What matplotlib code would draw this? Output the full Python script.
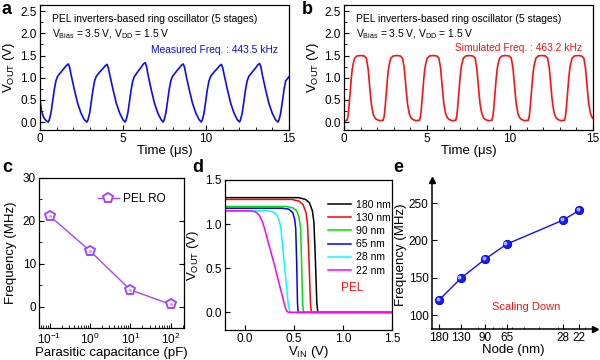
import matplotlib
matplotlib.use('Agg')
import matplotlib.pyplot as plt
from matplotlib.ticker import MultipleLocator, LogLocator, NullFormatter, FixedLocator, FixedFormatter
import matplotlib.transforms as mtransforms

plt.rcParams['font.family'] = ['Liberation Sans', 'DejaVu Sans']
plt.rcParams['mathtext.fontset'] = 'custom'
plt.rcParams['mathtext.rm'] = 'Liberation Sans'
plt.rcParams['mathtext.it'] = 'Liberation Sans:italic'
plt.rcParams['mathtext.bf'] = 'Liberation Sans:bold'
plt.rcParams['axes.linewidth'] = 0.9
plt.rcParams['xtick.direction'] = 'in'
plt.rcParams['ytick.direction'] = 'in'
plt.rcParams['xtick.labelsize'] = 8.5
plt.rcParams['ytick.labelsize'] = 8.5
plt.rcParams['xtick.major.pad'] = 2.5
plt.rcParams['ytick.major.pad'] = 2.5

# ---------------- data ----------------
# (a) measured waveform
a_time = [0.00, 0.08, 0.18, 0.28, 0.40,
          0.50, 0.56, 0.66, 0.76, 0.86, 0.96, 1.06, 1.27, 1.47, 1.60, 1.71, 1.79, 1.87, 2.07, 2.27, 2.47, 2.67,
          2.83, 2.89, 2.99, 3.09, 3.19, 3.29, 3.39, 3.60, 3.80, 3.93, 4.04, 4.12, 4.20, 4.40, 4.60, 4.80, 5.00,
          5.13, 5.19, 5.29, 5.39, 5.49, 5.59, 5.69, 5.90, 6.10, 6.23, 6.34, 6.42, 6.50, 6.70, 6.90, 7.10, 7.30,
          7.42, 7.48, 7.58, 7.68, 7.78, 7.88, 7.98, 8.19, 8.39, 8.52, 8.63, 8.71, 8.79, 8.99, 9.19, 9.39, 9.59,
          9.72, 9.78, 9.88, 9.98, 10.08, 10.18, 10.28, 10.49, 10.69, 10.82, 10.93, 11.01, 11.09, 11.29, 11.49, 11.69, 11.89,
          12.02, 12.08, 12.18, 12.28, 12.38, 12.48, 12.58, 12.79, 12.99, 13.12, 13.23, 13.31, 13.39, 13.59, 13.79, 13.99, 14.19,
          14.34, 14.40, 14.50, 14.60, 14.70, 14.80, 15.00]
a_vout = [0.52, 0.27, 0.14, 0.07, 0.02,
          0.00, 0.05, 0.20, 0.46, 0.73, 0.93, 1.03, 1.13, 1.22, 1.28, 1.31, 1.23, 1.07, 0.73, 0.42, 0.20, 0.05,
          0.00, 0.05, 0.20, 0.46, 0.73, 0.93, 1.03, 1.13, 1.21, 1.27, 1.30, 1.22, 1.07, 0.73, 0.42, 0.20, 0.05,
          0.00, 0.05, 0.20, 0.46, 0.73, 0.93, 1.03, 1.14, 1.24, 1.31, 1.34, 1.25, 1.08, 0.73, 0.42, 0.20, 0.05,
          0.00, 0.05, 0.20, 0.46, 0.73, 0.93, 1.03, 1.13, 1.22, 1.28, 1.31, 1.23, 1.07, 0.73, 0.42, 0.20, 0.05,
          0.00, 0.05, 0.20, 0.46, 0.73, 0.93, 1.03, 1.13, 1.21, 1.27, 1.30, 1.22, 1.07, 0.73, 0.42, 0.20, 0.05,
          0.00, 0.05, 0.20, 0.46, 0.73, 0.93, 1.03, 1.13, 1.22, 1.29, 1.32, 1.24, 1.07, 0.73, 0.42, 0.20, 0.05,
          0.00, 0.05, 0.20, 0.46, 0.73, 0.93, 1.02]

# (b) simulated waveform
b_time = [0.00, 0.10,
          0.18, 0.24, 0.29, 0.34, 0.39, 0.44, 0.49, 0.54, 0.64, 0.78, 1.00, 1.22, 1.35, 1.45, 1.50, 1.55, 1.60, 1.65, 1.75, 1.85, 1.95, 2.15,
          2.36, 2.42, 2.47, 2.52, 2.57, 2.62, 2.67, 2.72, 2.82, 2.96, 3.18, 3.40, 3.53, 3.63, 3.68, 3.73, 3.78, 3.83, 3.93, 4.03, 4.13, 4.33,
          4.55, 4.61, 4.66, 4.71, 4.76, 4.81, 4.86, 4.91, 5.01, 5.15, 5.37, 5.59, 5.72, 5.82, 5.87, 5.92, 5.97, 6.02, 6.12, 6.22, 6.32, 6.52,
          6.73, 6.79, 6.84, 6.89, 6.94, 6.99, 7.04, 7.09, 7.19, 7.33, 7.55, 7.77, 7.90, 8.00, 8.05, 8.10, 8.15, 8.20, 8.30, 8.40, 8.50, 8.70,
          8.91, 8.97, 9.02, 9.07, 9.12, 9.17, 9.22, 9.27, 9.37, 9.51, 9.73, 9.95, 10.08, 10.18, 10.23, 10.28, 10.33, 10.38, 10.48, 10.58, 10.68, 10.88,
          11.10, 11.16, 11.21, 11.26, 11.31, 11.36, 11.41, 11.46, 11.56, 11.70, 11.92, 12.14, 12.27, 12.37, 12.42, 12.47, 12.52, 12.57, 12.67, 12.77, 12.87, 13.07,
          13.28, 13.34, 13.39, 13.44, 13.49, 13.54, 13.59, 13.64, 13.74, 13.88, 14.10, 14.32, 14.45, 14.55, 14.60, 14.65, 14.70, 14.75, 14.85, 14.95, 15.00]
b_vout = [0.03, 0.03,
          0.04, 0.13, 0.30, 0.53, 0.77, 0.99, 1.17, 1.29, 1.44, 1.49, 1.50, 1.49, 1.44, 1.21, 1.01, 0.79, 0.58, 0.40, 0.19, 0.10, 0.06, 0.03,
          0.04, 0.13, 0.30, 0.53, 0.77, 0.99, 1.17, 1.29, 1.44, 1.49, 1.50, 1.49, 1.44, 1.21, 1.01, 0.79, 0.58, 0.40, 0.19, 0.10, 0.06, 0.03,
          0.04, 0.13, 0.30, 0.53, 0.77, 0.99, 1.17, 1.29, 1.44, 1.49, 1.50, 1.49, 1.44, 1.21, 1.01, 0.79, 0.58, 0.40, 0.19, 0.10, 0.06, 0.03,
          0.04, 0.13, 0.30, 0.53, 0.77, 0.99, 1.17, 1.29, 1.44, 1.49, 1.50, 1.49, 1.44, 1.21, 1.01, 0.79, 0.58, 0.40, 0.19, 0.10, 0.06, 0.03,
          0.04, 0.13, 0.30, 0.53, 0.77, 0.99, 1.17, 1.29, 1.44, 1.49, 1.50, 1.49, 1.44, 1.21, 1.01, 0.79, 0.58, 0.40, 0.19, 0.10, 0.06, 0.03,
          0.04, 0.13, 0.30, 0.53, 0.77, 0.99, 1.17, 1.29, 1.44, 1.49, 1.50, 1.49, 1.44, 1.21, 1.01, 0.79, 0.58, 0.40, 0.19, 0.10, 0.06, 0.03,
          0.04, 0.13, 0.30, 0.53, 0.77, 0.99, 1.17, 1.29, 1.44, 1.49, 1.50, 1.49, 1.44, 1.21, 1.01, 0.79, 0.58, 0.40, 0.19, 0.10, 0.08]

# (c) frequency vs parasitic capacitance
c_cap = [0.1, 1, 10, 100]
c_freq = [21.2, 13.0, 3.9, 0.5]

# (d) voltage transfer curves
d_labels = ['180 nm', '130 nm', '90 nm', '65 nm', '28 nm', '22 nm']
d_vin_180 = [-0.2, 0.55, 0.62, 0.66, 0.69, 0.705, 0.72, 0.735, 0.745, 1.5]
d_vout_180 = [1.30, 1.30, 1.28, 1.24, 1.15, 1.02, 0.60, 0.10, 0.0, 0.0]
d_vin_130 = [-0.2, 0.48, 0.555, 0.595, 0.625, 0.64, 0.655, 0.67, 0.68, 1.5]
d_vout_130 = [1.28, 1.28, 1.26, 1.22, 1.13, 1.00, 0.60, 0.10, 0.0, 0.0]
d_vin_90 = [-0.2, 0.42, 0.49, 0.53, 0.555, 0.57, 0.58, 0.59, 0.60, 1.5]
d_vout_90 = [1.20, 1.20, 1.185, 1.15, 1.07, 0.95, 0.55, 0.10, 0.0, 0.0]
d_vin_65 = [-0.2, 0.38, 0.45, 0.49, 0.51, 0.52, 0.53, 0.538, 0.545, 1.5]
d_vout_65 = [1.18, 1.18, 1.17, 1.13, 1.05, 0.95, 0.55, 0.10, 0.0, 0.0]
d_vin_28 = [-0.2, 0.22, 0.29, 0.33, 0.355, 0.37, 0.40, 0.43, 0.445, 0.46, 0.48, 1.5]
d_vout_28 = [1.15, 1.15, 1.14, 1.10, 1.03, 0.94, 0.60, 0.25, 0.08, 0.01, 0.0, 0.0]
d_vin_22 = [-0.2, 0.06, 0.11, 0.15, 0.18, 0.20, 0.30, 0.38, 0.41, 0.43, 0.45, 1.5]
d_vout_22 = [1.15, 1.15, 1.14, 1.10, 1.03, 0.96, 0.55, 0.20, 0.07, 0.01, 0.0, 0.0]

# (e) frequency vs node
e_node = [180, 130, 90, 65, 28, 22]
e_freq = [120, 149, 175, 195, 227, 240]

# ---------------- figure ----------------
fig = plt.figure(figsize=(6.0, 3.6), dpi=100)
W, H = 600.0, 360.0

def box(l, t, r, b):
    return [l / W, 1 - b / H, (r - l) / W, (b - t) / H]

lab_fs = 9.5
txt_fs = 7.4

# ---- a ----
axa = fig.add_axes(box(40, 5, 289, 130))
axa.plot(a_time, a_vout, color='#0a0aff', lw=1.2)
axa.set_xlim(0, 15)
axa.set_ylim(-0.18, 2.64)
axa.xaxis.set_major_locator(MultipleLocator(5))
axa.xaxis.set_minor_locator(MultipleLocator(1))
axa.yaxis.set_major_locator(MultipleLocator(0.5))
axa.yaxis.set_minor_locator(MultipleLocator(0.25))
axa.yaxis.set_major_formatter(matplotlib.ticker.FormatStrFormatter('%.1f'))
axa.set_xlabel('Time (μs)', fontsize=lab_fs, labelpad=0)
axa.set_ylabel(r'V$_{\mathrm{OUT}}$ (V)', fontsize=lab_fs, labelpad=2)
axa.text(0.05, 0.89, 'PEL inverters-based ring oscillator (5 stages)', transform=axa.transAxes,
         fontsize=txt_fs, va='center', ha='left')
axa.text(0.05, 0.77, r'V$_{\mathrm{Bias}}$ = 3.5 V, V$_{\mathrm{DD}}$ = 1.5 V', transform=axa.transAxes,
         fontsize=txt_fs, va='center', ha='left')
axa.text(0.955, 0.64, 'Measured Freq. : 443.5 kHz', transform=axa.transAxes, color='#0a0aff',
         fontsize=txt_fs, va='center', ha='right')

# ---- b ----
axb = fig.add_axes(box(344, 5, 593, 130))
axb.plot(b_time, b_vout, color='#ff1010', lw=1.2)
axb.set_xlim(0, 15)
axb.set_ylim(-0.18, 2.64)
axb.xaxis.set_major_locator(MultipleLocator(5))
axb.xaxis.set_minor_locator(MultipleLocator(1))
axb.yaxis.set_major_locator(MultipleLocator(0.5))
axb.yaxis.set_minor_locator(MultipleLocator(0.25))
axb.yaxis.set_major_formatter(matplotlib.ticker.FormatStrFormatter('%.1f'))
axb.set_xlabel('Time (μs)', fontsize=lab_fs, labelpad=0)
axb.set_ylabel(r'V$_{\mathrm{OUT}}$ (V)', fontsize=lab_fs, labelpad=2)
axb.text(0.05, 0.89, 'PEL inverters-based ring oscillator (5 stages)', transform=axb.transAxes,
         fontsize=txt_fs, va='center', ha='left')
axb.text(0.05, 0.77, r'V$_{\mathrm{Bias}}$ = 3.5 V, V$_{\mathrm{DD}}$ = 1.5 V', transform=axb.transAxes,
         fontsize=txt_fs, va='center', ha='left')
axb.text(0.955, 0.655, 'Simulated Freq. : 463.2 kHz', transform=axb.transAxes, color='#ff1010',
         fontsize=txt_fs, va='center', ha='right')

# ---- c ----
purple = '#a347ff'
axc = fig.add_axes(box(39.5, 178, 184, 328))
axc.plot(c_cap, c_freq, color=purple, lw=1.0, marker='p', ms=7.5, mfc='white', mec=purple, mew=1.4,
         label='PEL RO')
axc.plot(c_cap, c_freq, ls='none', marker='o', ms=1.2, color='#c9a0ff')
axc.set_xscale('log')
axc.set_xlim(10 ** -1.25, 10 ** 2.33)
axc.set_ylim(-5, 30)
axc.yaxis.set_major_locator(MultipleLocator(10))
axc.yaxis.set_minor_locator(MultipleLocator(5))
axc.xaxis.set_major_locator(LogLocator(base=10, numticks=10))
axc.xaxis.set_minor_locator(LogLocator(base=10, subs=[2, 3, 4, 5, 6, 7, 8, 9], numticks=20))
axc.xaxis.set_minor_formatter(NullFormatter())
axc.tick_params(which='major', right=True)
axc.set_xlabel('Parasitic capacitance (pF)', fontsize=lab_fs, labelpad=0)
axc.set_ylabel('Frequency (MHz)', fontsize=lab_fs, labelpad=4)
axc.legend(loc='upper left', bbox_to_anchor=(0.33, 0.97), frameon=False, fontsize=8.5,
           handlelength=1.8, handletextpad=0.3)

# ---- d ----
axd = fig.add_axes(box(225, 180, 392, 330))
d_colors = ['#000000', '#ff0000', '#00e000', '#0000ff', '#00ffff', '#ff00ff']
d_x = [d_vin_180, d_vin_130, d_vin_90, d_vin_65, d_vin_28, d_vin_22]
d_y = [d_vout_180, d_vout_130, d_vout_90, d_vout_65, d_vout_28, d_vout_22]
for xs, ys, col, lab in zip(d_x, d_y, d_colors, d_labels):
    axd.plot(xs, ys, color=col, lw=1.1, label=lab)
axd.set_xlim(-0.2, 1.5)
axd.set_ylim(-0.2, 1.5)
axd.xaxis.set_major_locator(MultipleLocator(0.5))
axd.yaxis.set_major_locator(MultipleLocator(0.5))
axd.xaxis.set_major_formatter(matplotlib.ticker.FormatStrFormatter('%.1f'))
axd.yaxis.set_major_formatter(matplotlib.ticker.FormatStrFormatter('%.1f'))
axd.set_xlabel(r'V$_{\mathrm{IN}}$ (V)', fontsize=lab_fs, labelpad=-1)
axd.set_ylabel(r'V$_{\mathrm{OUT}}$ (V)', fontsize=lab_fs, labelpad=3)
axd.legend(loc='upper left', bbox_to_anchor=(0.56, 0.93), frameon=False, fontsize=7.5,
           handlelength=2.2, handletextpad=0.5, labelspacing=0.3)
axd.text(1.09, 0.28, 'PEL', color='#ff1010', fontsize=8.5, ha='center', va='center')

# ---- e ----
axe = fig.add_axes(box(432, 180, 595, 329))
axe.plot(e_node, e_freq, color='#1010ff', lw=1.0, marker='o', ms=6, mfc='#1a1aff', mec='#0000c8', mew=0.6)
hl = mtransforms.offset_copy(axe.transData, fig=fig, x=-1.0, y=1.0, units='points')
axe.plot(e_node, e_freq, ls='none', marker='o', ms=1.8, color='#a8b4ff', transform=hl)
axe.set_xscale('log')
axe.set_xlim(200, 17.3)
axe.set_ylim(81.3, 280.8)
axe.xaxis.set_major_locator(FixedLocator(e_node))
axe.xaxis.set_major_formatter(FixedFormatter([str(n) for n in e_node]))
axe.xaxis.set_minor_locator(LogLocator(base=10, subs=[1, 2, 3, 4, 5, 6, 7, 8, 9], numticks=20))
axe.xaxis.set_minor_formatter(NullFormatter())
axe.yaxis.set_major_locator(FixedLocator([100, 150, 200, 250]))
axe.spines['top'].set_visible(False)
axe.spines['right'].set_visible(False)
axe.spines['left'].set_linewidth(1.1)
axe.spines['bottom'].set_linewidth(1.1)
axe.tick_params(which='minor', length=1.5)
axe.plot(1, 0, '>k', transform=axe.transAxes, clip_on=False, ms=4)
axe.plot(0, 1, '^k', transform=axe.transAxes, clip_on=False, ms=4)
axe.set_xlabel('Node (nm)', fontsize=lab_fs, labelpad=0)
axe.set_ylabel('Frequency (MHz)', fontsize=lab_fs, labelpad=1)
axe.text(0.58, 0.146, 'Scaling Down', transform=axe.transAxes, color='#ff1010', fontsize=8,
         ha='center', va='center')

# panel letters
for lab, x, y in [('a', 2, 10), ('b', 302, 10), ('c', 2, 168), ('d', 192, 168), ('e', 393, 168)]:
    fig.text(x / W, 1 - y / H, lab, fontsize=13, fontweight='bold', ha='left', va='center')

fig.savefig('out.png', dpi=100)
